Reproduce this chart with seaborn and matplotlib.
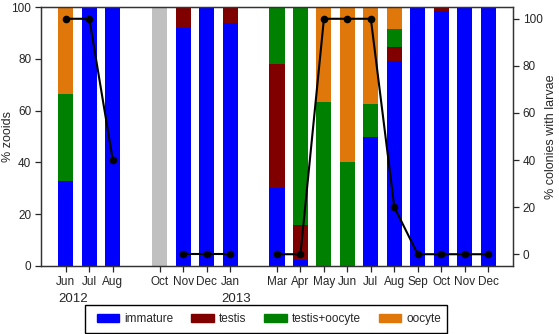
import numpy as np
import pandas as pd
import matplotlib
matplotlib.use('Agg')
import matplotlib.pyplot as plt
import matplotlib.patches as mpatches
import seaborn as sns

# months from Jun 2012 (0) to Dec 2013 (18); Sep 2012 and Feb 2013 were not sampled
positions = [0, 1, 2, 4, 5, 6, 7, 9, 10, 11, 12, 13, 14, 15, 16, 17, 18]
month_labels = ['Jun', 'Jul', 'Aug', 'Oct', 'Nov', 'Dec', 'Jan', 'Mar', 'Apr',
                'May', 'Jun', 'Jul', 'Aug', 'Sep', 'Oct', 'Nov', 'Dec']

# % zooids per stage (Oct 2012 has no data -> grey bar)
immature = [33, 100, 100, 0, 92, 100, 94, 30, 2.5, 0, 0, 50, 79, 100, 98.5, 100, 100]
testis = [0, 0, 0, 0, 8, 0, 6, 48, 13.5, 0, 0, 0, 5.5, 0, 1.5, 0, 0]
testis_oocyte = [33.5, 0, 0, 0, 0, 0, 0, 22, 84, 63.5, 40, 12.5, 7, 0, 0, 0, 0]
oocyte = [33.5, 0, 0, 0, 0, 0, 0, 0, 0, 36.5, 60, 37.5, 8.5, 0, 0, 0, 0]
no_data = [0, 0, 0, 100, 0, 0, 0, 0, 0, 0, 0, 0, 0, 0, 0, 0, 0]

# % colonies with larvae
larvae_pos = [0, 1, 2, 5, 6, 7, 9, 10, 11, 12, 13, 14, 15, 16, 17, 18]
larvae = [100, 100, 40, 0, 0, 0, 0, 0, 100, 100, 100, 20, 0, 0, 0, 0]
larvae_seg = [0, 0, 0, 1, 1, 1, 2, 2, 2, 2, 2, 2, 2, 2, 2, 2]

stages = ['immature', 'testis', 'testis+oocyte', 'oocyte']
colors = ['#0000FF', '#800000', '#008000', '#E0770A']

sns.set_style('ticks')
plt.rcParams['font.family'] = ['Liberation Sans', 'DejaVu Sans']

W, H = 559, 334
fig = plt.figure(figsize=(W / 100, H / 100), dpi=100)
ax = fig.add_axes([41 / W, 1 - 266 / H, 472 / W, 259 / H])

df = pd.DataFrame({'pos': positions, 'immature': immature, 'testis': testis,
                   'testis+oocyte': testis_oocyte, 'oocyte': oocyte, 'nodata': no_data})
cum = df[stages].cumsum(axis=1)

# stacked bars: draw cumulative totals from top layer down
for stage, col in reversed(list(zip(stages, colors))):
    sns.barplot(x=df['pos'], y=cum[stage], color=col, width=0.64,
                native_scale=True, saturation=1, linewidth=0, ax=ax)
sns.barplot(x=df['pos'], y=df['nodata'], color='#C0C0C0', width=0.64,
            native_scale=True, saturation=1, linewidth=0, ax=ax)

ax.set_xlim(-1.06, 19.06)
ax.set_ylim(0, 100)
ax.set_yticks([0, 20, 40, 60, 80, 100])
ax.set_xticks(positions)
ax.set_xticklabels(month_labels)
ax.tick_params(axis='both', labelsize=8.5, length=4, width=0.9, pad=3)
ax.set_xlabel('')
ax.set_ylabel('% zooids', fontsize=9)
ax.yaxis.set_label_coords(-27 / 472, 0.5)
for s in ax.spines.values():
    s.set_linewidth(0.9)
    s.set_color('#333333')

ax.text(0.3, -12.8, '2012', ha='center', va='center', fontsize=9.5)
ax.text(7.27, -12.8, '2013', ha='center', va='center', fontsize=9.5)

ax2 = ax.twinx()
ldf = pd.DataFrame({'pos': larvae_pos, 'larvae': larvae, 'seg': larvae_seg})
sns.lineplot(data=ldf, x='pos', y='larvae', units='seg', estimator=None,
             color='black', marker='o', markersize=5.5, markeredgewidth=0,
             linewidth=1.5, ax=ax2)
ax2.set_ylim(-5, 105)
ax2.set_yticks([0, 20, 40, 60, 80, 100])
ax2.tick_params(axis='y', labelsize=8.5, length=4, width=0.9, pad=3)
ax2.set_ylabel('% colonies with larvae', fontsize=9)
ax2.yaxis.set_label_coords(1 + 32 / 472, 0.5)
ax2.set_xlim(-1.06, 19.06)
for s in ax2.spines.values():
    s.set_linewidth(0.9)
    s.set_color('#333333')

# legend box
box = mpatches.Rectangle((85 / W, 1 - 333 / H), 362 / W, 28 / H, transform=fig.transFigure,
                         fill=False, edgecolor='black', linewidth=1.0)
fig.add_artist(box)
handles = [mpatches.Patch(color=c, label=s) for s, c in zip(stages, colors)]
fig.legend(handles=handles, ncol=4, loc='center',
           bbox_to_anchor=(269 / W, 1 - 319 / H), fontsize=8.5,
           frameon=False, handlelength=1.9, handleheight=0.75,
           handletextpad=0.45, columnspacing=1.5, borderaxespad=0)

fig.savefig('out.png', dpi=100)
